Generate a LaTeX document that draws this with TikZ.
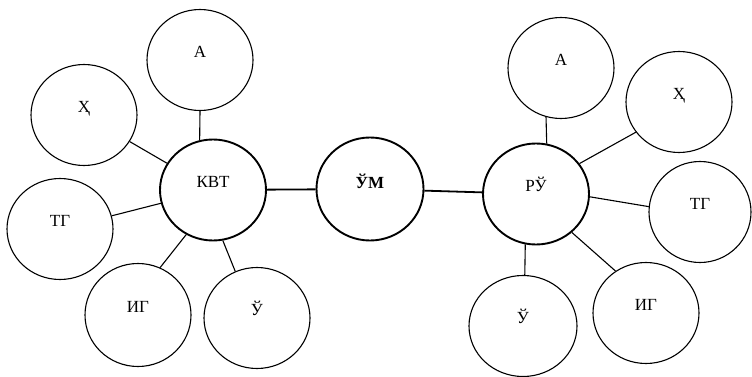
\documentclass[tikz,border=0pt]{standalone}
\usepackage{fontspec}
\setmainfont{Liberation Serif}
\usetikzlibrary{shapes.geometric}
\begin{document}
\begin{tikzpicture}[x=1pt,y=-1pt,
  bub/.style={ellipse, draw, line width=1.1pt, minimum width=106pt, minimum height=101pt,
    inner sep=0pt, font=\fontsize{17}{20}\selectfont, text height=10pt, text depth=15pt},
  hub/.style={bub, line width=1.9pt},
  mid/.style={hub, minimum width=107pt, minimum height=103pt, font=\fontsize{17}{20}\selectfont\bfseries,
    text height=11pt, text depth=12pt},
  spoke/.style={line width=1.1pt},
  link/.style={line width=1.8pt}]
\useasboundingbox[fill=white] (0,0) rectangle (752,377);
% left cluster
\node[bub] (aL)  at (200,60)  {А};
\node[bub] (xL)  at (84,115)  {Ҳ};
\node[hub] (kvt) at (213,190) {КВТ};
\node[bub] (tgL) at (60,229)  {ТГ};
\node[bub, minimum height=103pt] (igL) at (138,315) {ИГ};
\node[bub] (uL)  at (257,318) {Ў};
% middle
\node[mid] (um)  at (370,189) {ЎМ};
% right cluster
\node[bub] (aR)  at (561,68)  {А};
\node[bub] (xR)  at (679,102) {Ҳ};
\node[hub] (ru)  at (536,194) {РЎ};
\node[bub, minimum width=102pt] (tgR) at (700,212) {ТГ};
\node[bub] (igR) at (646,313) {ИГ};
\node[bub, minimum width=108pt] (uR)  at (523,326) {Ў};
% spokes left
\draw[spoke] (aL.south) -- (kvt.105);
\draw[spoke] (xL) -- (kvt);
\draw[spoke] (tgL) -- (kvt);
\draw[spoke] (kvt.239) -- (igL.65);
\draw[spoke] (kvt.281) -- (uL.115);
% spokes right
\draw[spoke] (aR.253) -- (ru.78);
\draw[spoke] (ru.35) -- (xR.215);
\draw[spoke] (ru.357) -- (tgR.174);
\draw[spoke] (ru.313) -- (igR.126);
\draw[spoke] (ru.258) -- (uR.88);
% links to middle
\draw[link] (kvt) -- (um);
\draw[link] (um) -- (ru);
\end{tikzpicture}
\end{document}
